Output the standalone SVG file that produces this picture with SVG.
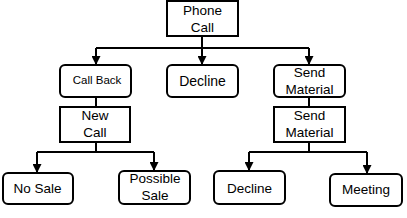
<svg xmlns="http://www.w3.org/2000/svg" width="407" height="218" viewBox="0 0 407 218">
<defs>
<style>
.box{fill:#fff;stroke:#000;stroke-width:2}
.t{font-family:"Liberation Sans",Arial,sans-serif;font-size:13.5px;fill:#000;text-anchor:middle}
.c{fill:none;stroke:#000;stroke-width:2}
</style>
<marker id="ah" viewBox="0 0 10 10" refX="10" refY="5" markerWidth="4.5" markerHeight="4.5" orient="auto" markerUnits="strokeWidth">
<path d="M0,0 L10,5 L0,10 Z" fill="#000"/>
</marker>
</defs>
<rect width="407" height="218" fill="#fff"/>
<g id="connectors">
<path class="c" d="M202,36 V48 M96,48 H309"/>
<path class="c" d="M96,48 V65" marker-end="url(#ah)"/>
<path class="c" d="M202,48 V65" marker-end="url(#ah)"/>
<path class="c" d="M309,48 V65" marker-end="url(#ah)"/>
<path class="c" d="M96,97 V107"/>
<path class="c" d="M309,97 V107"/>
<path class="c" d="M96,142 V152 M37,152 H154"/>
<path class="c" d="M37,152 V173" marker-end="url(#ah)"/>
<path class="c" d="M154,152 V171" marker-end="url(#ah)"/>
<path class="c" d="M309,142 V152 M249,152 H367"/>
<path class="c" d="M249,152 V171" marker-end="url(#ah)"/>
<path class="c" d="M367,152 V174" marker-end="url(#ah)"/>
</g>
<g id="phone-call"><rect class="box" x="167" y="1" width="71" height="35"/><text class="t" x="202.5" y="15">Phone</text><text class="t" x="202.5" y="32">Call</text></g>
<g id="call-back"><rect class="box" x="60" y="65" width="71" height="32" rx="5"/><text class="t" x="97" y="84" style="font-size:11.5px">Call Back</text></g>
<g id="decline-1"><rect class="box" x="167" y="65" width="71" height="32" rx="5"/><text class="t" x="202.5" y="86" style="font-size:14px">Decline</text></g>
<g id="send-material-1"><rect class="box" x="274" y="65" width="71" height="32" rx="5"/><text class="t" x="309.5" y="77">Send</text><text class="t" x="309.5" y="94">Material</text></g>
<g id="new-call"><rect class="box" x="60" y="107" width="70" height="35"/><text class="t" x="95" y="120">New</text><text class="t" x="95" y="137">Call</text></g>
<g id="send-material-2"><rect class="box" x="274" y="107" width="71" height="35"/><text class="t" x="309.5" y="120">Send</text><text class="t" x="309.5" y="137">Material</text></g>
<g id="no-sale"><rect class="box" x="3" y="173" width="70" height="31" rx="5"/><text class="t" x="37.5" y="193">No Sale</text></g>
<g id="possible-sale"><rect class="box" x="119" y="171" width="71" height="33" rx="5"/><text class="t" x="155" y="183">Possible</text><text class="t" x="155" y="200">Sale</text></g>
<g id="decline-2"><rect class="box" x="214" y="171" width="71" height="33" rx="5"/><text class="t" x="249.5" y="193">Decline</text></g>
<g id="meeting"><rect class="box" x="330" y="174" width="72" height="32" rx="5"/><text class="t" x="366" y="194">Meeting</text></g>
</svg>
